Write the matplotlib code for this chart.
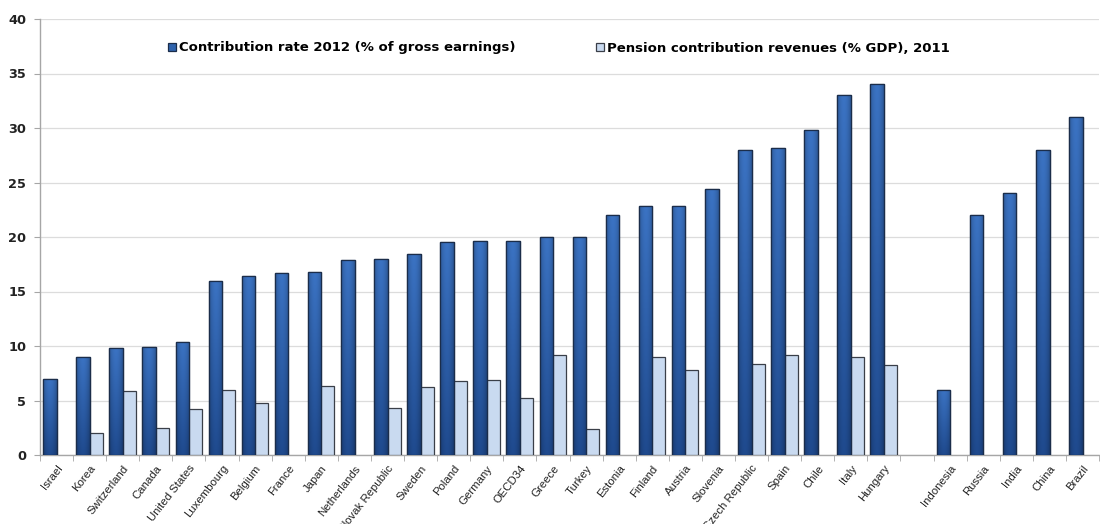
import matplotlib
matplotlib.use("Agg")
import matplotlib.pyplot as plt
import numpy as np
from matplotlib.colors import to_rgb

plt.rcParams['font.family'] = ['Liberation Sans', 'DejaVu Sans']

countries = ["Israel", "Korea", "Switzerland", "Canada", "United States", "Luxembourg",
             "Belgium", "France", "Japan", "Netherlands", "Slovak Republic", "Sweden",
             "Poland", "Germany", "OECD34", "Greece", "Turkey", "Estonia", "Finland",
             "Austria", "Slovenia", "Czech Republic", "Spain", "Chile", "Italy", "Hungary",
             "", "Indonesia", "Russia", "India", "China", "Brazil"]

contribution_rate = [7.0, 9.0, 9.8, 9.9, 10.4, 16.0, 16.4, 16.7, 16.8, 17.9, 18.0, 18.4,
                     19.5, 19.6, 19.6, 20.0, 20.0, 22.0, 22.8, 22.8, 24.4, 28.0, 28.2,
                     29.8, 33.0, 34.0, np.nan, 6.0, 22.0, 24.0, 28.0, 31.0]

pension_revenues = [np.nan, 2.0, 5.9, 2.5, 4.2, 6.0, 4.8, np.nan, 6.35, np.nan, 4.3, 6.2,
                    6.8, 6.9, 5.2, 9.2, 2.35, np.nan, 9.0, 7.8, np.nan, 8.35, 9.2,
                    np.nan, 9.0, 8.3, np.nan, np.nan, np.nan, np.nan, np.nan, np.nan]

label_rate = "Contribution rate 2012 (% of gross earnings)"
label_rev = "Pension contribution revenues (% GDP), 2011"

fig = plt.figure(figsize=(11, 5.24), dpi=100)
ax = fig.add_axes([40/1100, 1-455/524, 1059/1100, 436/524])

x = np.arange(len(countries))
dark = "#2a5ca3"
light = "#c9daf0"
bars_dark = ax.bar(x - 0.2, contribution_rate, width=0.41, color=dark, edgecolor="#1b2d4a",
                   linewidth=0.9, label=label_rate, zorder=3)
ax.bar(x + 0.2, pension_revenues, width=0.39, color=light, edgecolor="#3a3f48",
       linewidth=0.9, label=label_rev, zorder=3)

# gradient fill for the dark bars (vertical light->dark, slight darkening at edges)
top_c = np.array(to_rgb("#3b73c3"))
bot_c = np.array(to_rgb("#1f4a8e"))
ny, nx = 64, 16
vy = np.linspace(0, 1, ny)[:, None, None]          # 0 = top, 1 = bottom
hx = np.abs(np.linspace(-1, 1, nx))[None, :, None]
grad = top_c * (1 - vy) + bot_c * vy
grad = grad * (1 - 0.22 * hx ** 2)
grad = np.clip(grad, 0, 1)
for p in bars_dark:
    h = p.get_height()
    if not np.isfinite(h) or h <= 0:
        continue
    x0, w = p.get_x(), p.get_width()
    im = ax.imshow(grad, extent=(x0, x0 + w, 0, h), origin="upper",
                   aspect="auto", zorder=3.5, interpolation="bilinear")
    im.set_clip_path(p)
    p2 = plt.Rectangle((x0, 0), w, h, fill=False, edgecolor="#1b2d4a",
                       linewidth=0.9, zorder=3.6)
    ax.add_patch(p2)

ax.set_xlim(-0.5, len(countries) - 0.5)
ax.set_ylim(0, 40)
ax.set_yticks(np.arange(0, 41, 5))
ax.yaxis.grid(True, color="#dcdcdc", linewidth=0.9, zorder=0)
ax.set_axisbelow(True)

for s in ["top", "right"]:
    ax.spines[s].set_visible(False)
for s in ["left", "bottom"]:
    ax.spines[s].set_color("#a6a6a6")
    ax.spines[s].set_linewidth(1.0)

ax.tick_params(axis="y", length=4, color="#a6a6a6", labelsize=9.3, pad=6)
for t in ax.get_yticklabels():
    t.set_fontweight("bold")
    t.set_family("DejaVu Sans")
    t.set_color("#222222")

ax.set_xticks(x)
ax.set_xticklabels(countries, rotation=52, ha="right", va="top",
                   rotation_mode="anchor", fontsize=8.2, color="#222222")
ax.tick_params(axis="x", which="major", length=0, pad=6)
ax.set_xticks(np.arange(-0.5, len(countries)), minor=True)
ax.tick_params(axis="x", which="minor", length=4, color="#a6a6a6")

leg = ax.legend(loc="center", bbox_to_anchor=(559/1100, 1-48/524),
                bbox_transform=fig.transFigure, ncol=2, frameon=False,
                prop={"weight": "bold", "size": 9.5, "family": "DejaVu Sans"},
                handlelength=0.6, handleheight=0.6, handletextpad=0.25,
                columnspacing=6.1)
leg.legend_handles[0].set_facecolor("#2f63ad")

fig.savefig("out.png", dpi=100)
